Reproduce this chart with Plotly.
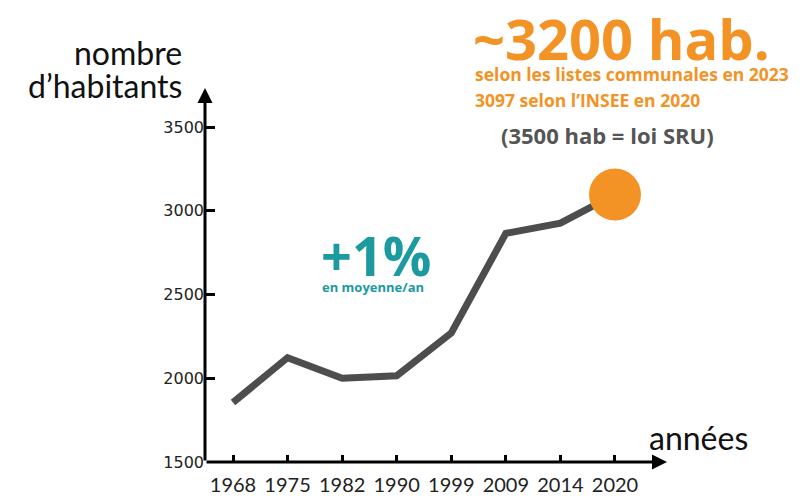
import plotly.graph_objects as go

years = ["1968", "1975", "1982", "1990", "1999", "2009", "2014", "2020"]
population = [1855, 2123, 2000, 2015, 2270, 2865, 2926, 3097]
y_ticks = [1500, 2000, 2500, 3000, 3500]

W, H = 800, 499
OFF = 8  # page body margin offset
def px(x):
    return (x - OFF) / W
def py(y):
    return 1 - (y - OFF) / H

LINE = "#4d4d4d"
ORANGE = "#F39325"
TEAL = "#1B9AA0"

fig = go.Figure()
fig.add_trace(go.Scatter(x=years, y=population, mode="lines",
                         line=dict(color=LINE, width=7), hoverinfo="skip"))
fig.add_trace(go.Scatter(x=[years[-1]], y=[population[-1]], mode="markers",
                         marker=dict(color=ORANGE, size=52, line=dict(width=0)),
                         cliponaxis=False, hoverinfo="skip"))

xr = [-0.513, 7.953]
yr = [1500, 3733]

fig.update_layout(
    width=W, height=H, template="none",
    margin=dict(l=0, r=0, t=0, b=0),
    paper_bgcolor="white", plot_bgcolor="white",
    showlegend=False,
    xaxis=dict(domain=[px(205), px(667)], range=xr, type="category",
               showgrid=False, zeroline=False, showline=False,
               ticks="inside", ticklen=7, tickwidth=2.5, tickcolor="black",
               tickfont=dict(family="Lato", size=20, color="#222"),
               ticklabelstandoff=9,
               automargin=False),
    yaxis=dict(domain=[py(462), py(88)], range=yr,
               tickvals=y_ticks, ticktext=[str(v) for v in y_ticks],
               showgrid=False, zeroline=False, showline=False,
               ticks="inside", ticklen=10, tickwidth=2.5, tickcolor="black",
               tickfont=dict(family="DejaVu Sans", size=16, color="#222"),
               automargin=False),
)

# axis lines with arrows
fig.add_annotation(x=xr[1], y=1500, ax=xr[0], ay=1500, xref="x", yref="y",
                   axref="x", ayref="y", showarrow=True, arrowhead=2,
                   arrowsize=1, arrowwidth=3, arrowcolor="black", text="")
fig.add_annotation(x=xr[0], y=yr[1], ax=xr[0], ay=1500, xref="x", yref="y",
                   axref="x", ayref="y", showarrow=True, arrowhead=2,
                   arrowsize=1, arrowwidth=3, arrowcolor="black", text="")

def txt(text, x, y, size, color, family="Lato", xanchor="left", yanchor="middle", bold=False):
    if bold:
        text = "<b>" + text + "</b>"
    fig.add_annotation(text=text, x=px(x), y=py(y), xref="paper", yref="paper",
                       xanchor=xanchor, yanchor=yanchor, showarrow=False,
                       borderpad=0,
                       font=dict(family=family, size=size, color=color))

txt("nombre", 183, 53, 32, "#111", xanchor="right")
txt("d’habitants", 183, 86, 32, "#111", xanchor="right")
txt("années", 648, 437, 32, "#111")
txt("+1%", 320, 255, 54, TEAL, family="Open Sans", bold=True)
txt("en moyenne/an", 321, 287, 13, TEAL, family="Open Sans", bold=True)
txt("~3200 hab.", 472, 38, 56, ORANGE, family="Open Sans", bold=True)
txt("selon les listes communales en 2023", 474, 74, 17.5, ORANGE, family="Open Sans", bold=True)
txt("3097 selon l’INSEE en 2020", 474, 100, 17.5, ORANGE, family="Open Sans", bold=True)
txt("(3500 hab = loi SRU)", 500, 135, 22, "#555", family="Open Sans", bold=True)

fig.write_html("out.html")
